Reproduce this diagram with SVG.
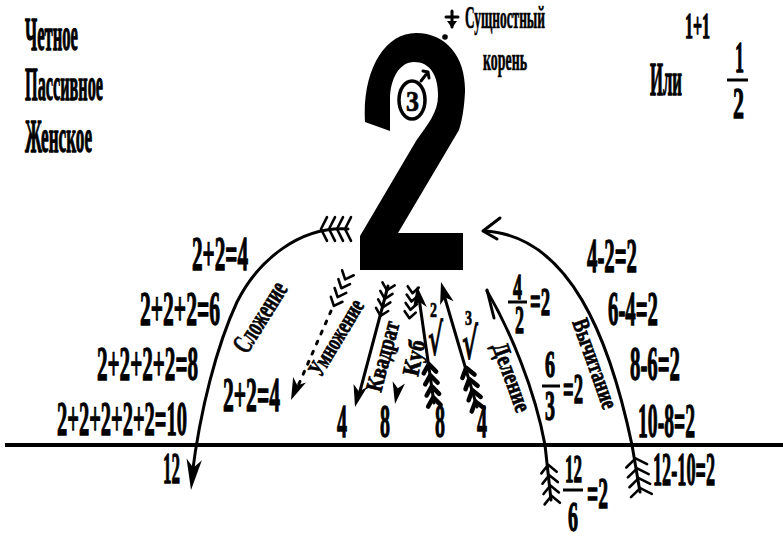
<svg xmlns="http://www.w3.org/2000/svg" width="783" height="536" viewBox="0 0 783 536">
<defs>
<style>
.t{font-family:"Liberation Serif","DejaVu Serif",serif;font-weight:bold;fill:#000;stroke:#000;stroke-width:1.3;stroke-linejoin:round}
.s{stroke-width:0.7}
.r{font-family:"DejaVu Serif","Liberation Serif",serif;font-weight:bold;fill:#000;stroke:#000;stroke-width:0.8}
.ln{stroke:#000;fill:none;stroke-linecap:round;stroke-linejoin:round;stroke-width:3}
.fl{stroke:#000;fill:none;stroke-width:2.6;stroke-linecap:round;stroke-linejoin:round}
.flb{stroke:#000;fill:none;stroke-width:4.5;stroke-linecap:round;stroke-linejoin:round}
</style>
<path id="fl" class="fl" vector-effect="non-scaling-stroke" d="M-2,-7L4,0L-2,7M6,-7L12,0L6,7M14,-7L20,0L14,7M22,-7L28,0L22,7"/>
<path id="flb" class="flb" vector-effect="non-scaling-stroke" d="M-2,-7L4,0L-2,7M6,-7L12,0L6,7M14,-7L20,0L14,7M22,-7L28,0L22,7"/>
<path id="ah" d="M0,0L-22,-7L-16,0L-22,7Z" fill="#000"/>
</defs>
<rect width="783" height="536" fill="#fff"/>

<g id="connectors">
<line x1="5" y1="445" x2="783" y2="445" stroke="#000" stroke-width="4"/>
<!-- Сложение -->
<path class="ln" d="M348,229 C300,226 258,260 237,302 C217,345 200,410 192,476"/>
<use href="#fl" transform="translate(349,229) rotate(180) scale(1,1.7)"/>
<use href="#ah" transform="translate(191,490) rotate(96) scale(1.4,1.1)"/>
<!-- Вычитание -->
<path class="ln" d="M640,492 L632,445 C610,340 570,235 484,231"/>
<path class="ln" d="M500,218 L483,231 L497,239"/>
<use href="#fl" transform="translate(641,493) rotate(-99) scale(1.25,1.5)"/>
<!-- Деление -->
<path class="ln" d="M551,500 L545,445 C535,390 510,330 487,291"/>
<path class="ln" d="M487,290 L494,318"/>
<use href="#fl" transform="translate(552,501) rotate(-96) scale(1.3,1.1)"/>
<!-- Умножение -->
<use href="#fl" transform="translate(347,275) rotate(113) scale(1.2,0.9)"/>
<line class="ln" x1="331" y1="311" x2="298" y2="386" stroke-width="4.5" stroke-dasharray="3 8"/>
<use href="#ah" transform="translate(291,400) rotate(113)"/>
<!-- Квадрат -->
<use href="#fl" transform="translate(388,286) rotate(104) scale(1.1,0.9)"/>
<line class="ln" x1="388" y1="286" x2="359" y2="395"/>
<use href="#ah" transform="translate(355,407) rotate(104)"/>
<!-- Куб -->
<use href="#fl" transform="translate(413,289) rotate(97) scale(1.05,0.8)"/>
<use href="#ah" transform="translate(395,404) rotate(100) scale(1,0.9)"/>
<!-- sqrt 2 -->
<use href="#flb" transform="translate(434,403) rotate(-97.6) scale(1.4,0.9)"/>
<line class="ln" x1="434" y1="403" x2="419" y2="298"/>
<use href="#ah" transform="translate(417,286) rotate(-97.6)"/>
<!-- cbrt -->
<use href="#flb" transform="translate(477,407) rotate(-105.5) scale(1.45,0.9)"/>
<line class="ln" x1="477" y1="407" x2="444" y2="295"/>
<use href="#ah" transform="translate(441,282) rotate(-105.5)"/>
<!-- link to Сущностный корень -->
<path class="ln" stroke-width="2.5" d="M421,81 L428,72 M423,71 L428,72 L429,78"/>
<circle cx="445" cy="37" r="2.8" fill="#000"/>
<path class="ln" stroke-width="2.5" d="M452,11 L452,27 M446,17 L458,17"/>
<path d="M447,21 L457,21 L452,28 Z" fill="#000"/>
</g>

<g id="two">
<path fill="#000" d="M365,122 C362,70 385,33 416,33 C447,33 466,58 465,92 C464,110 462,120 459,130 L398,233 L463,233 L463,270 L360,270 L360,236 L416,141 C428,124 438,112 438,96 C438,75 430,62 414,62 C400,62 390,78 390,100 L390,131 Z"/>
<ellipse cx="412" cy="100" rx="13" ry="19" fill="#fff" stroke="#000" stroke-width="3.5"/>
<text class="t s" x="406" y="111" font-size="30" textLength="13" lengthAdjust="spacingAndGlyphs">3</text>
</g>

<g id="root-label">
<text class="t s" x="465" y="28" font-size="32" textLength="80" lengthAdjust="spacingAndGlyphs">Сущностный</text>
<text class="t s" x="483" y="70" font-size="32" textLength="44" lengthAdjust="spacingAndGlyphs">корень</text>
</g>

<g id="properties">
<text class="t" x="25" y="50" font-size="46" textLength="53" lengthAdjust="spacingAndGlyphs">Четное</text>
<text class="t" x="25" y="100" font-size="46" textLength="78" lengthAdjust="spacingAndGlyphs">Пассивное</text>
<text class="t" x="25" y="152" font-size="46" textLength="67" lengthAdjust="spacingAndGlyphs">Женское</text>
</g>

<g id="definition">
<text class="t" x="685" y="38" font-size="36" textLength="25" lengthAdjust="spacingAndGlyphs">1+1</text>
<text class="t" x="650" y="95" font-size="46" textLength="32" lengthAdjust="spacingAndGlyphs">Или</text>
<text class="t" x="735" y="72" font-size="44" textLength="9" lengthAdjust="spacingAndGlyphs">1</text>
<line x1="727" y1="80" x2="748" y2="80" stroke="#000" stroke-width="3"/>
<text class="t" x="733" y="118" font-size="44" textLength="11" lengthAdjust="spacingAndGlyphs">2</text>
</g>

<g id="addition">
<text class="t s" transform="translate(247,355) rotate(-58)" font-size="28" textLength="78" lengthAdjust="spacingAndGlyphs">Сложение</text>
<text class="t" x="192" y="270" font-size="48" textLength="56" lengthAdjust="spacingAndGlyphs">2+2=4</text>
<text class="t" x="140" y="325" font-size="48" textLength="80" lengthAdjust="spacingAndGlyphs">2+2+2=6</text>
<text class="t" x="97" y="380" font-size="48" textLength="101" lengthAdjust="spacingAndGlyphs">2+2+2+2=8</text>
<text class="t" x="57" y="435" font-size="48" textLength="130" lengthAdjust="spacingAndGlyphs">2+2+2+2+2=10</text>
<text class="t" x="163" y="483" font-size="44" textLength="17" lengthAdjust="spacingAndGlyphs">12</text>
</g>

<g id="multiplication">
<text class="t s" transform="translate(321,378) rotate(-59)" font-size="24" textLength="85" lengthAdjust="spacingAndGlyphs">Умножение</text>
<text class="t" x="223" y="411" font-size="48" textLength="57" lengthAdjust="spacingAndGlyphs">2+2=4</text>
<text class="t" x="337" y="437" font-size="46" textLength="10" lengthAdjust="spacingAndGlyphs">4</text>
</g>

<g id="square">
<text class="t s" transform="translate(381,393) rotate(-75)" font-size="24" textLength="72" lengthAdjust="spacingAndGlyphs">Квадрат</text>
<text class="t" x="380" y="437" font-size="46" textLength="10" lengthAdjust="spacingAndGlyphs">8</text>
</g>

<g id="cube">
<text class="t s" transform="translate(418,377) rotate(-78)" font-size="24" textLength="36" lengthAdjust="spacingAndGlyphs">Куб</text>
</g>

<g id="sqrt">
<text class="t s" x="430" y="317" font-size="22" textLength="7" lengthAdjust="spacingAndGlyphs">2</text>
<text class="r" x="428" y="355" font-size="44" textLength="15" lengthAdjust="spacingAndGlyphs">√</text>
<text class="t" x="435" y="437" font-size="46" textLength="10" lengthAdjust="spacingAndGlyphs">8</text>
</g>

<g id="cbrt">
<text class="t s" x="465" y="325" font-size="22" textLength="7" lengthAdjust="spacingAndGlyphs">3</text>
<text class="r" x="462" y="359" font-size="44" textLength="16" lengthAdjust="spacingAndGlyphs">√</text>
<text class="t" x="477" y="437" font-size="46" textLength="10" lengthAdjust="spacingAndGlyphs">4</text>
</g>

<g id="division">
<text class="t s" transform="translate(492,346) rotate(70)" font-size="24" textLength="72" lengthAdjust="spacingAndGlyphs">Деление</text>
<text class="t" x="513" y="299" font-size="36" textLength="9" lengthAdjust="spacingAndGlyphs">4</text>
<line x1="508" y1="302" x2="527" y2="302" stroke="#000" stroke-width="3"/>
<text class="t" x="515" y="333" font-size="40" textLength="9" lengthAdjust="spacingAndGlyphs">2</text>
<text class="t" x="530" y="315" font-size="40" textLength="20" lengthAdjust="spacingAndGlyphs">=2</text>
<text class="t" x="545" y="377" font-size="38" textLength="10" lengthAdjust="spacingAndGlyphs">6</text>
<line x1="542" y1="386" x2="560" y2="386" stroke="#000" stroke-width="3"/>
<text class="t" x="545" y="420" font-size="42" textLength="10" lengthAdjust="spacingAndGlyphs">3</text>
<text class="t" x="563" y="403" font-size="42" textLength="20" lengthAdjust="spacingAndGlyphs">=2</text>
<text class="t" x="565" y="482" font-size="40" textLength="17" lengthAdjust="spacingAndGlyphs">12</text>
<line x1="563" y1="490" x2="583" y2="490" stroke="#000" stroke-width="3"/>
<text class="t" x="568" y="531" font-size="42" textLength="10" lengthAdjust="spacingAndGlyphs">6</text>
<text class="t" x="587" y="508" font-size="44" textLength="21" lengthAdjust="spacingAndGlyphs">=2</text>
</g>

<g id="subtraction">
<text class="t s" transform="translate(572,322) rotate(70.5)" font-size="24" textLength="94" lengthAdjust="spacingAndGlyphs">Вычитание</text>
<text class="t" x="587" y="272" font-size="48" textLength="50" lengthAdjust="spacingAndGlyphs">4-2=2</text>
<text class="t" x="608" y="325" font-size="48" textLength="50" lengthAdjust="spacingAndGlyphs">6-4=2</text>
<text class="t" x="630" y="380" font-size="48" textLength="50" lengthAdjust="spacingAndGlyphs">8-6=2</text>
<text class="t" x="638" y="437" font-size="48" textLength="57" lengthAdjust="spacingAndGlyphs">10-8=2</text>
<text class="t" x="653" y="485" font-size="47" textLength="62" lengthAdjust="spacingAndGlyphs">12-10=2</text>
</g>
</svg>
